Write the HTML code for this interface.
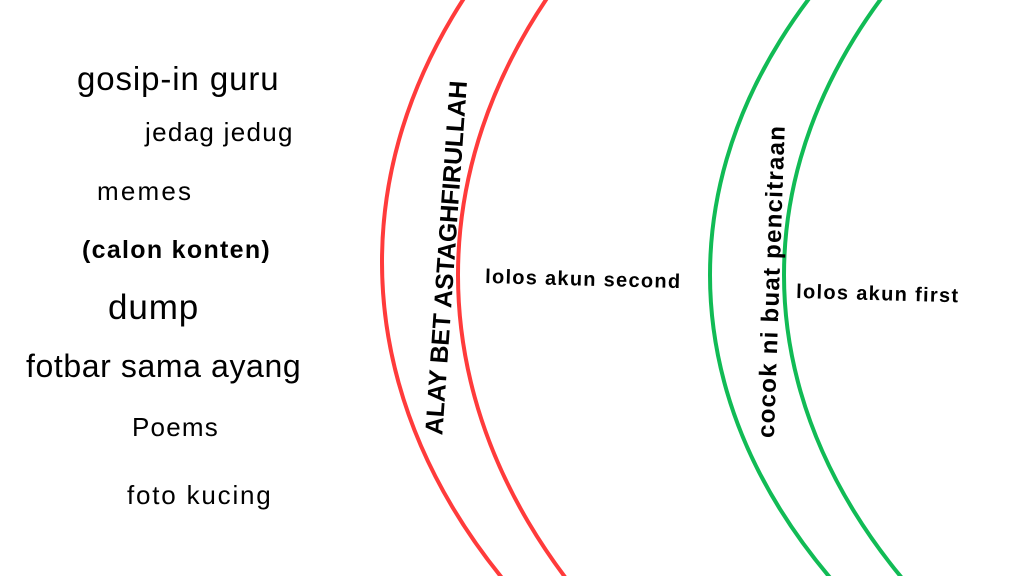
<!DOCTYPE html>
<html><head><style>
html,body{margin:0;width:1024px;height:576px;overflow:hidden}
body{background:#fff;position:relative;font-family:"Liberation Sans",sans-serif;color:#000}
.t{position:absolute;white-space:nowrap;line-height:1}
</style></head><body>
<svg width="1024" height="576" style="position:absolute;left:0;top:0">
<ellipse cx="1382" cy="262" rx="1000" ry="665" fill="none" stroke="#ff3b3b" stroke-width="4"/>
<ellipse cx="1458" cy="275" rx="1000" ry="671" fill="none" stroke="#ff3b3b" stroke-width="4"/>
<ellipse cx="1710" cy="275" rx="1000" ry="637" fill="none" stroke="#11bb55" stroke-width="4"/>
<ellipse cx="1784" cy="275" rx="1000" ry="643" fill="none" stroke="#11bb55" stroke-width="4"/>
<text x="448" y="258" transform="rotate(-86 448 258)" text-anchor="middle" dominant-baseline="middle" font-family="Liberation Sans" font-weight="bold" font-size="25" textLength="355">ALAY BET ASTAGHFIRULLAH</text>
<text x="773" y="282" transform="rotate(-88 773 282)" text-anchor="middle" dominant-baseline="middle" font-family="Liberation Sans" font-weight="bold" font-size="24" textLength="312">cocok ni buat pencitraan</text>
<text x="485" y="283" transform="rotate(1.5 485 283)" font-family="Liberation Sans" font-weight="bold" font-size="20" textLength="195">lolos akun second</text>
<text x="796" y="298" transform="rotate(1.5 796 298)" font-family="Liberation Sans" font-weight="bold" font-size="20" textLength="162">lolos akun first</text>
</svg>
<div class="t" style="left:77px;top:62px;font-size:33px;letter-spacing:0.9px">gosip-in guru</div>
<div class="t" style="left:145px;top:119px;font-size:26px;letter-spacing:1.3px">jedag jedug</div>
<div class="t" style="left:97px;top:178px;font-size:26px;letter-spacing:2.2px">memes</div>
<div class="t" style="left:82px;top:238px;font-size:25px;font-weight:bold;letter-spacing:1.3px">(calon konten)</div>
<div class="t" style="left:108px;top:290px;font-size:35px;letter-spacing:0.9px">dump</div>
<div class="t" style="left:26px;top:350px;font-size:32px;letter-spacing:0.6px">fotbar sama ayang</div>
<div class="t" style="left:132px;top:414px;font-size:26px;letter-spacing:1.2px">Poems</div>
<div class="t" style="left:127px;top:482px;font-size:26px;letter-spacing:1.8px">foto kucing</div>
</body></html>
